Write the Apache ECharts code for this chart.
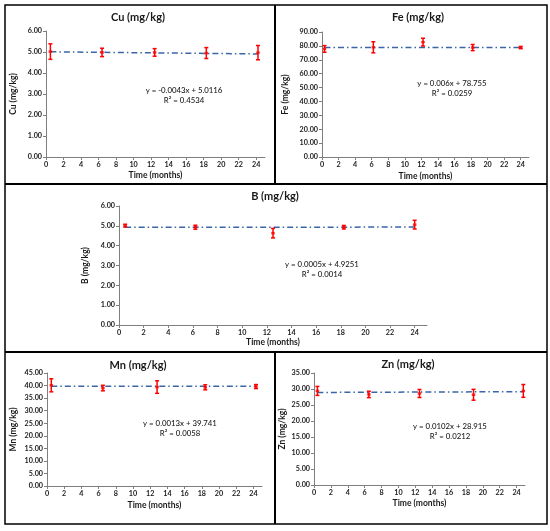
<!DOCTYPE html>
<html>
<head>
<meta charset="utf-8">
<script src="https://cdn.jsdelivr.net/npm/echarts@6/dist/echarts.min.js"></script>
<style>
  html, body { margin: 0; padding: 0; background: #fff; }
  #charts { width: 550px; height: 531px; }
</style>
</head>
<body>
<div id="charts"></div>
<script>
// values
var xTicks = [0, 2, 4, 6, 8, 10, 12, 14, 16, 18, 20, 22, 24];

var cuTime = [0.5, 6.4, 12.4, 18.3, 24.2];
var cuMean = [5.02, 4.98, 4.98, 4.95, 4.97];
var cuErr = [0.37, 0.2, 0.18, 0.26, 0.34];
var cuFit = [-0.0043, 5.0116];
var cuEq = ['y = -0.0043x + 5.0116', 'R² = 0.4534'];

var feTime = [0.3, 6.2, 12.2, 18.2, 24.0];
var feMean = [77.8, 79.0, 82.7, 78.8, 78.8];
var feErr = [2.4, 4.0, 2.8, 2.2, 0.8];
var feFit = [0.006, 78.755];
var feEq = ['y = 0.006x + 78.755', 'R² = 0.0259'];

var bTime = [0.5, 6.2, 12.5, 18.25, 24.0];
var bMean = [5.01, 4.93, 4.63, 4.93, 5.06];
var bErr = [0.07, 0.1, 0.24, 0.09, 0.22];
var bFit = [0.0005, 4.9251];
var bEq = ['y = 0.0005x + 4.9251', 'R² = 0.0014'];

var mnTime = [0.5, 6.5, 12.8, 18.4, 24.3];
var mnMean = [40.1, 39.0, 39.4, 39.3, 39.6];
var mnErr = [2.6, 1.1, 2.5, 1.0, 0.8];
var mnFit = [0.0013, 39.741];
var mnEq = ['y = 0.0013x + 39.741', 'R² = 0.0058'];

var znTime = [0.4, 6.5, 12.5, 18.9, 24.8];
var znMean = [29.4, 28.3, 28.6, 28.2, 29.4];
var znErr = [1.4, 1.0, 1.25, 1.7, 2.0];
var znFit = [0.0102, 28.915];
var znEq = ['y = 0.0102x + 28.915', 'R² = 0.0212'];

var FONT = 'Lato';
var AXIS_GRAY = '#7f7f7f';
var TEXT = '#1a1a1a';

var panels = [
    { name: 'Cu (mg/kg)', time: cuTime, mean: cuMean, err: cuErr, fit: cuFit, eq: cuEq, yMax: 6, yStep: 1,
      grid: { left: 46, top: 31, width: 219, height: 126 }, title: [138, 17], eqPos: [184, 85], xGap: 14, yGap: 28 },
    { name: 'Fe (mg/kg)', time: feTime, mean: feMean, err: feErr, fit: feFit, eq: feEq, yMax: 90, yStep: 10,
      grid: { left: 322, top: 32, width: 207, height: 125 }, title: [418, 17], eqPos: [452, 78], xGap: 15, yGap: 32 },
    { name: 'B (mg/kg)', time: bTime, mean: bMean, err: bErr, fit: bFit, eq: bEq, yMax: 6, yStep: 1,
      grid: { left: 119, top: 206, width: 308, height: 119 }, title: [275, 196], eqPos: [322, 259], xGap: 13, yGap: 26 },
    { name: 'Mn (mg/kg)', time: mnTime, mean: mnMean, err: mnErr, fit: mnFit, eq: mnEq, yMax: 45, yStep: 5,
      grid: { left: 47, top: 373, width: 215, height: 113 }, title: [138, 365], eqPos: [180, 418], xGap: 15, yGap: 29 },
    { name: 'Zn (mg/kg)', time: znTime, mean: znMean, err: znErr, fit: znFit, eq: znEq, yMax: 35, yStep: 5,
      grid: { left: 314, top: 373, width: 211, height: 112 }, title: [408, 364], eqPos: [450, 421], xGap: 14, yGap: 27 }
];

function errorBar(params, api) {
    var x = api.value(0);
    var top = api.coord([x, api.value(2)]);
    var bot = api.coord([x, api.value(1)]);
    var w = 2;
    var st = { stroke: '#ff0000', lineWidth: 1.5 };
    return {
        type: 'group',
        children: [
            { type: 'line', shape: { x1: top[0], y1: top[1], x2: bot[0], y2: bot[1] }, style: st },
            { type: 'line', shape: { x1: top[0] - w, y1: top[1], x2: top[0] + w, y2: top[1] }, style: st },
            { type: 'line', shape: { x1: bot[0] - w, y1: bot[1], x2: bot[0] + w, y2: bot[1] }, style: st }
        ]
    };
}

var grids = [], xAxes = [], yAxes = [], series = [], graphics = [];

panels.forEach(function (p, i) {
    grids.push(p.grid);
    xAxes.push({
        type: 'value', gridIndex: i, min: 0, max: 25, interval: 2,
        name: 'Time (months)', nameLocation: 'middle', nameGap: p.xGap,
        nameTextStyle: { fontFamily: FONT, fontWeight: 'bold', fontSize: 8.5, color: TEXT },
        splitLine: { show: false },
        axisLine: { onZero: false, lineStyle: { color: AXIS_GRAY, width: 1 } },
        axisTick: { inside: false, length: 3, lineStyle: { color: AXIS_GRAY }, customValues: xTicks },
        axisLabel: { margin: 4, fontFamily: FONT, fontWeight: 'bold', fontSize: 7.2, color: TEXT, customValues: xTicks }
    });
    yAxes.push({
        type: 'value', gridIndex: i, min: 0, max: p.yMax, interval: p.yStep,
        name: p.name, nameLocation: 'middle', nameRotate: 90, nameGap: p.yGap,
        nameTextStyle: { fontFamily: FONT, fontWeight: 'bold', fontSize: 8.5, color: TEXT },
        splitLine: { show: false },
        axisLine: { show: true, lineStyle: { color: AXIS_GRAY, width: 1 } },
        axisTick: { show: true, inside: false, length: 3, lineStyle: { color: AXIS_GRAY } },
        axisLabel: { margin: 4, fontFamily: FONT, fontWeight: 'bold', fontSize: 7.2, color: TEXT,
            formatter: function (v) { return v.toFixed(2); } }
    });

    var t0 = p.time[0], t1 = p.time[p.time.length - 1];
    series.push({
        type: 'line', xAxisIndex: i, yAxisIndex: i, showSymbol: false, silent: true, z: 1,
        data: [[t0, p.fit[0] * t0 + p.fit[1]], [t1, p.fit[0] * t1 + p.fit[1]]],
        lineStyle: { color: '#3a66a8', width: 1.5, type: [6, 3, 1.5, 3] }
    });
    series.push({
        type: 'custom', xAxisIndex: i, yAxisIndex: i, renderItem: errorBar, z: 3,
        encode: { x: 0, y: [1, 2] },
        data: p.time.map(function (t, k) { return [t, p.mean[k] - p.err[k], p.mean[k] + p.err[k]]; })
    });
    series.push({
        type: 'scatter', xAxisIndex: i, yAxisIndex: i, symbol: 'rect', symbolSize: [3.5, 2.5], z: 4,
        itemStyle: { color: '#ff0000' },
        data: p.time.map(function (t, k) { return [t, p.mean[k]]; })
    });

    graphics.push({
        type: 'text', x: p.title[0], y: p.title[1],
        style: { text: p.name, fontFamily: FONT, fontWeight: 'bold', fontSize: 11, fill: TEXT,
            align: 'center', verticalAlign: 'middle' }
    });
    graphics.push({
        type: 'text', x: p.eqPos[0], y: p.eqPos[1],
        style: { text: p.eq.join('\n'), fontFamily: FONT, fontWeight: 500, fontSize: 7.8, lineHeight: 10, fill: TEXT,
            align: 'center', verticalAlign: 'top' }
    });
});

// panel frames
graphics.push({ type: 'rect', shape: { x: 5, y: 5, width: 542, height: 519 },
    style: { fill: 'none', stroke: '#000', lineWidth: 1.5 } });
[[5, 184, 547, 184], [5, 352, 547, 352], [275, 5, 275, 184], [275, 352, 275, 524]].forEach(function (l) {
    graphics.push({ type: 'line', shape: { x1: l[0], y1: l[1], x2: l[2], y2: l[3] },
        style: { stroke: '#000', lineWidth: 2 } });
});

var myChart = echarts.init(document.getElementById('charts'));
myChart.setOption({
    backgroundColor: '#fff',
    animation: false,
    grid: grids,
    xAxis: xAxes,
    yAxis: yAxes,
    series: series,
    graphic: graphics
});
</script>
</body>
</html>
